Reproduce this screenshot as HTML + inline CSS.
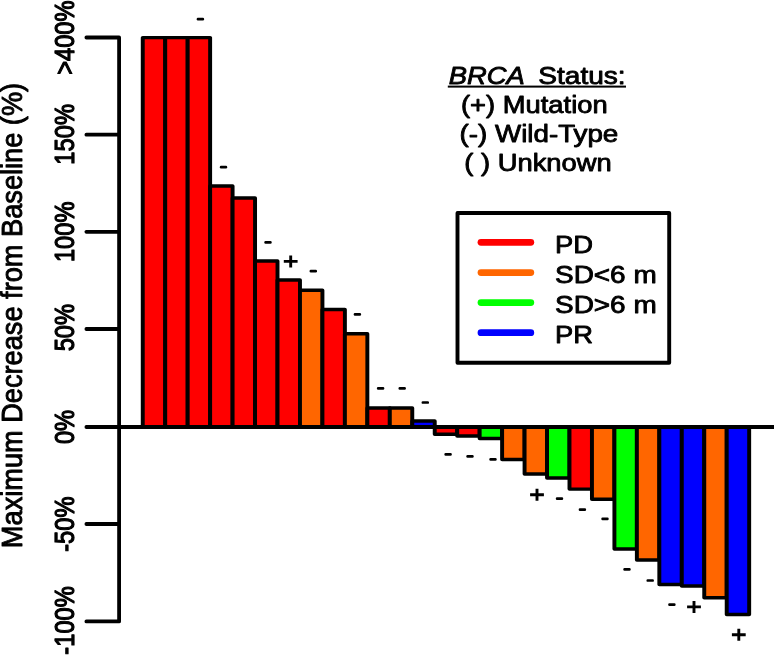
<!DOCTYPE html><html><head><meta charset="utf-8"><style>html,body{margin:0;padding:0;background:#fff;width:774px;height:656px;overflow:hidden}svg{display:block;will-change:transform}text{font-family:"Liberation Sans",sans-serif;fill:#000;stroke:#000;stroke-width:0.85px;stroke-linejoin:round}</style></head><body>
<svg width="774" height="656" viewBox="0 0 774 656">
<rect width="774" height="656" fill="#fff"/>
<g transform="scale(1.14 1)" stroke="#000" stroke-width="3.45" stroke-linejoin="round">
<rect x="125.219" y="37.60" width="19.702" height="389.40" fill="#ff0000"/>
<rect x="144.921" y="37.60" width="19.702" height="389.40" fill="#ff0000"/>
<rect x="164.623" y="37.60" width="19.702" height="389.40" fill="#ff0000"/>
<rect x="184.325" y="185.90" width="19.702" height="241.10" fill="#ff0000"/>
<rect x="204.026" y="198.00" width="19.702" height="229.00" fill="#ff0000"/>
<rect x="223.728" y="261.00" width="19.702" height="166.00" fill="#ff0000"/>
<rect x="243.430" y="280.00" width="19.702" height="147.00" fill="#ff0000"/>
<rect x="263.132" y="290.20" width="19.702" height="136.80" fill="#ff6600"/>
<rect x="282.833" y="309.50" width="19.702" height="117.50" fill="#ff0000"/>
<rect x="302.535" y="333.80" width="19.702" height="93.20" fill="#ff6600"/>
<rect x="322.237" y="408.00" width="19.702" height="19.00" fill="#ff0000"/>
<rect x="341.939" y="408.00" width="19.702" height="19.00" fill="#ff6600"/>
<rect x="361.640" y="421.00" width="19.702" height="6.00" fill="#0000ff"/>
<rect x="381.342" y="427.00" width="19.702" height="7.20" fill="#ff0000"/>
<rect x="401.044" y="427.00" width="19.702" height="9.00" fill="#ff0000"/>
<rect x="420.746" y="427.00" width="19.702" height="11.50" fill="#00ff00"/>
<rect x="440.447" y="427.00" width="19.702" height="32.50" fill="#ff6600"/>
<rect x="460.149" y="427.00" width="19.702" height="47.00" fill="#ff6600"/>
<rect x="479.851" y="427.00" width="19.702" height="51.00" fill="#00ff00"/>
<rect x="499.553" y="427.00" width="19.702" height="62.10" fill="#ff0000"/>
<rect x="519.254" y="427.00" width="19.702" height="72.20" fill="#ff6600"/>
<rect x="538.956" y="427.00" width="19.702" height="121.90" fill="#00ff00"/>
<rect x="558.658" y="427.00" width="19.702" height="133.00" fill="#ff6600"/>
<rect x="578.360" y="427.00" width="19.702" height="157.50" fill="#0000ff"/>
<rect x="598.061" y="427.00" width="19.702" height="159.00" fill="#0000ff"/>
<rect x="617.763" y="427.00" width="19.702" height="170.70" fill="#ff6600"/>
<rect x="637.465" y="427.00" width="19.702" height="187.50" fill="#0000ff"/>
</g>
<g stroke="#000" stroke-width="3.8" stroke-linecap="round" stroke-linejoin="round" fill="none">
<path d="M86.4 37.5 H119.1 V621.4 H86.4"/>
<path d="M86.4 134.65 H119.1"/>
<path d="M86.4 231.8 H119.1"/>
<path d="M86.4 329.0 H119.1"/>
<path d="M86.4 427.0 H776"/>
<path d="M86.4 524.0 H119.1"/>
</g>
<text transform="translate(73.9 37.60) scale(1.19 1) rotate(-90)" text-anchor="middle" font-size="23.7" style="stroke-width:1.05px">&gt;400%</text>
<text transform="translate(73.9 134.35) scale(1.19 1) rotate(-90)" text-anchor="middle" font-size="23.7" style="stroke-width:1.05px">150%</text>
<text transform="translate(73.9 231.80) scale(1.19 1) rotate(-90)" text-anchor="middle" font-size="23.7" style="stroke-width:1.05px">100%</text>
<text transform="translate(73.9 327.60) scale(1.19 1) rotate(-90)" text-anchor="middle" font-size="23.7" style="stroke-width:1.05px">50%</text>
<text transform="translate(73.9 427.00) scale(1.19 1) rotate(-90)" text-anchor="middle" font-size="23.7" style="stroke-width:1.05px">0%</text>
<text transform="translate(73.9 524.15) scale(1.19 1) rotate(-90)" text-anchor="middle" font-size="23.7" style="stroke-width:1.05px">-50%</text>
<text transform="translate(73.9 620.40) scale(1.19 1) rotate(-90)" text-anchor="middle" font-size="23.7" style="stroke-width:1.05px">-100%</text>
<text transform="translate(21.9 315.5) scale(1.11 1) rotate(-90)" text-anchor="middle" font-size="27.2">Maximum Decrease from Baseline (%)</text>
<rect x="196.70" y="17.75" width="7.4" height="2.7" rx="1.2" fill="#000"/>
<rect x="219.80" y="165.85" width="7.4" height="2.7" rx="1.2" fill="#000"/>
<rect x="264.30" y="240.95" width="7.4" height="2.7" rx="1.2" fill="#000"/>
<path d="M283.80 261.40H297.60M290.70 255.40V267.40" stroke="#000" stroke-width="2.9" fill="none"/>
<rect x="309.60" y="269.85" width="7.4" height="2.7" rx="1.2" fill="#000"/>
<rect x="353.70" y="312.95" width="7.4" height="2.7" rx="1.2" fill="#000"/>
<rect x="376.90" y="387.05" width="7.4" height="2.7" rx="1.2" fill="#000"/>
<rect x="398.50" y="387.05" width="7.4" height="2.7" rx="1.2" fill="#000"/>
<rect x="421.60" y="401.15" width="7.4" height="2.7" rx="1.2" fill="#000"/>
<rect x="444.40" y="453.05" width="7.4" height="2.7" rx="1.2" fill="#000"/>
<rect x="466.30" y="454.95" width="7.4" height="2.7" rx="1.2" fill="#000"/>
<rect x="489.30" y="458.05" width="7.4" height="2.7" rx="1.2" fill="#000"/>
<path d="M530.10 494.80H543.90M537.00 488.80V500.80" stroke="#000" stroke-width="2.9" fill="none"/>
<rect x="555.80" y="497.25" width="7.4" height="2.7" rx="1.2" fill="#000"/>
<rect x="578.70" y="508.25" width="7.4" height="2.7" rx="1.2" fill="#000"/>
<rect x="601.30" y="517.45" width="7.4" height="2.7" rx="1.2" fill="#000"/>
<rect x="623.30" y="568.05" width="7.4" height="2.7" rx="1.2" fill="#000"/>
<rect x="646.50" y="579.15" width="7.4" height="2.7" rx="1.2" fill="#000"/>
<rect x="668.20" y="603.25" width="7.4" height="2.7" rx="1.2" fill="#000"/>
<path d="M687.10 606.90H700.90M694.00 600.90V612.90" stroke="#000" stroke-width="2.9" fill="none"/>
<path d="M731.90 634.80H745.70M738.80 628.80V640.80" stroke="#000" stroke-width="2.9" fill="none"/>
<text transform="translate(448.7 83.7) scale(1.13 1)" font-size="24.2" font-style="italic">BRCA</text>
<text transform="translate(538.3 83.7) scale(1.16 1)" font-size="24.2">Status:</text>
<rect x="447.8" y="85.6" width="178.2" height="2" fill="#000"/>
<text transform="translate(461 112.6) scale(1.13 1)" font-size="24.2">(+) Mutation</text>
<text transform="translate(459.6 141.6) scale(1.147 1)" font-size="24.2">(-) Wild-Type</text>
<text transform="translate(464.3 170.5) scale(1.13 1)" font-size="24.2">( ) Unknown</text>
<rect x="457.5" y="213" width="211.7" height="149.7" fill="none" stroke="#000" stroke-width="3.9" stroke-linejoin="round"/>
<path d="M481 242.3H530.8" stroke="#ff0000" stroke-width="6.8" stroke-linecap="round"/>
<text transform="translate(555 252.6) scale(1.13 1)" font-size="24.2">PD</text>
<path d="M481 272.6H530.8" stroke="#ff6600" stroke-width="6.8" stroke-linecap="round"/>
<text transform="translate(555 282.9) scale(1.155 1)" font-size="24.2">SD&lt;6 m</text>
<path d="M481 302.6H530.8" stroke="#00ff00" stroke-width="6.8" stroke-linecap="round"/>
<text transform="translate(555 312.9) scale(1.155 1)" font-size="24.2">SD&gt;6 m</text>
<path d="M481 332.7H530.8" stroke="#0000ff" stroke-width="6.8" stroke-linecap="round"/>
<text transform="translate(555 343.0) scale(1.13 1)" font-size="24.2">PR</text>
</svg></body></html>
